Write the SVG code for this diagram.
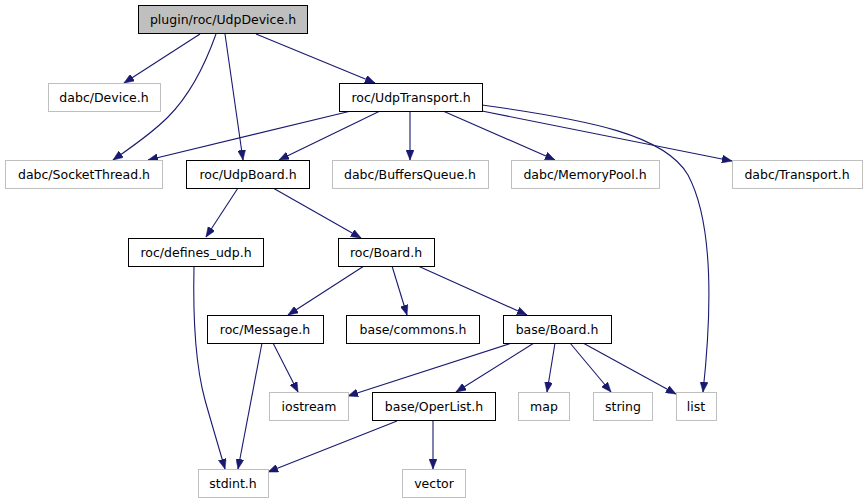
<svg xmlns="http://www.w3.org/2000/svg" width="867" height="504" viewBox="0 0 867 504">
<style>
.n rect{fill:#ffffff;stroke:#000000;stroke-width:1}
.n.ext rect{stroke:#bfbfbf}
.n.root rect{fill:#bfbfbf}
.n text{font-family:"DejaVu Sans",sans-serif;font-size:12.5px;text-anchor:middle;fill:#000000}
#edges path{fill:none;stroke:#191970;stroke-width:1.1;marker-end:url(#arr)}
</style>
<defs>
<marker id="arr" markerUnits="userSpaceOnUse" markerWidth="11" markerHeight="8" refX="10" refY="4" orient="auto">
<path d="M0,0 L10,4 L0,8 z" fill="#191970" stroke="#191970" stroke-width="0.5"/>
</marker>
</defs>
<rect width="867" height="504" fill="#ffffff"/>
<g id="edges">
<path d="M200,34 L124,83"/>
<path d="M216,34 C205,65 190,95 168,117 C150,135 130,148 113,160"/>
<path d="M225,34 L243,160"/>
<path d="M256,34 L375,83"/>
<path d="M351,111 L148,160"/>
<path d="M380,111 L279,160"/>
<path d="M410,111 L410,160"/>
<path d="M443,111 L555,160"/>
<path d="M482,111 L732,161"/>
<path d="M482,105 C590,120 665,135 688,175 C712,220 713,300 703,392"/>
<path d="M238,188 L206,237"/>
<path d="M273,188 L361,238"/>
<path d="M194,266 C193,310 194,360 205,400 C212,425 219,448 225,469"/>
<path d="M364,266 L288,315"/>
<path d="M392,266 L407,315"/>
<path d="M418,266 L527,315"/>
<path d="M273,343 L298,392"/>
<path d="M262,343 L238,469"/>
<path d="M512,343 L348,396"/>
<path d="M534,343 L456,392"/>
<path d="M555,343 L547,392"/>
<path d="M570,343 L611,392"/>
<path d="M583,343 L676,394"/>
<path d="M397,421 L268,472"/>
<path d="M433,421 L433,469"/>
</g>
<g id="udpdevice" class="n root"><rect x="138.5" y="5.5" width="169" height="28"/><text x="223" y="24">plugin/roc/UdpDevice.h</text></g>
<g id="device" class="n ext"><rect x="48.5" y="83.5" width="112" height="28"/><text x="104" y="102">dabc/Device.h</text></g>
<g id="udptransport" class="n"><rect x="339.5" y="83.5" width="143" height="28"/><text x="411" y="102">roc/UdpTransport.h</text></g>
<g id="socketthread" class="n ext"><rect x="5.5" y="160.5" width="157" height="28"/><text x="84" y="179">dabc/SocketThread.h</text></g>
<g id="udpboard" class="n"><rect x="186.5" y="160.5" width="123" height="28"/><text x="248" y="179">roc/UdpBoard.h</text></g>
<g id="buffersqueue" class="n ext"><rect x="332.5" y="160.5" width="156" height="28"/><text x="410" y="179">dabc/BuffersQueue.h</text></g>
<g id="memorypool" class="n ext"><rect x="511.5" y="160.5" width="148" height="28"/><text x="585" y="179">dabc/MemoryPool.h</text></g>
<g id="transport" class="n ext"><rect x="732.5" y="160.5" width="130" height="28"/><text x="797" y="179">dabc/Transport.h</text></g>
<g id="definesudp" class="n"><rect x="128.5" y="238.5" width="135" height="28"/><text x="196" y="257">roc/defines_udp.h</text></g>
<g id="rocboard" class="n"><rect x="338.5" y="238.5" width="96" height="28"/><text x="386" y="257">roc/Board.h</text></g>
<g id="message" class="n"><rect x="207.5" y="315.5" width="116" height="28"/><text x="265" y="334">roc/Message.h</text></g>
<g id="commons" class="n"><rect x="346.5" y="315.5" width="133" height="28"/><text x="413" y="334">base/commons.h</text></g>
<g id="baseboard" class="n"><rect x="503.5" y="315.5" width="108" height="28"/><text x="557" y="334">base/Board.h</text></g>
<g id="iostream" class="n ext"><rect x="269.5" y="392.5" width="79" height="28"/><text x="309" y="411">iostream</text></g>
<g id="operlist" class="n"><rect x="372.5" y="392.5" width="123" height="28"/><text x="434" y="411">base/OperList.h</text></g>
<g id="map" class="n ext"><rect x="518.5" y="392.5" width="51" height="28"/><text x="544" y="411">map</text></g>
<g id="string" class="n ext"><rect x="593.5" y="392.5" width="59" height="28"/><text x="623" y="411">string</text></g>
<g id="list" class="n ext"><rect x="676.5" y="392.5" width="40" height="28"/><text x="696" y="411">list</text></g>
<g id="stdint" class="n ext"><rect x="198.5" y="469.5" width="70" height="28"/><text x="233" y="488">stdint.h</text></g>
<g id="vector" class="n ext"><rect x="402.5" y="469.5" width="63" height="28"/><text x="434" y="488">vector</text></g>
</svg>
